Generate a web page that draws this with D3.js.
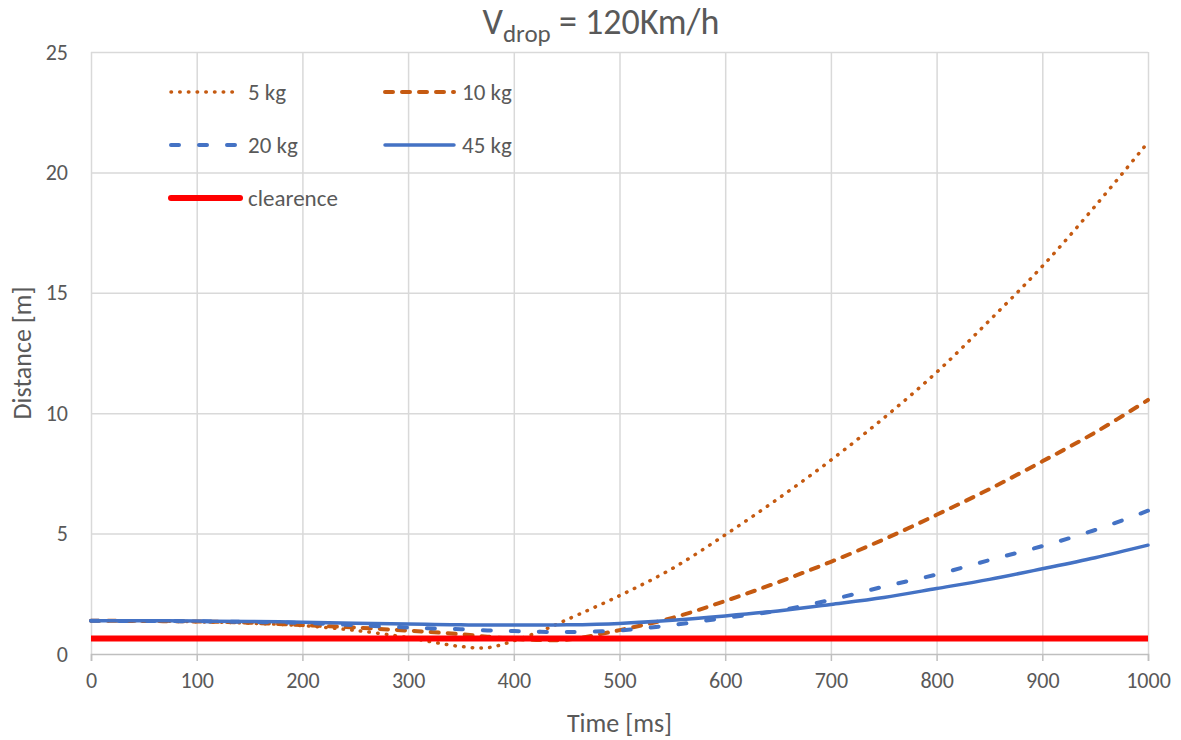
<!DOCTYPE html>
<html lang="en">
<head>
  <meta charset="UTF-8">
  <title>Vdrop 120</title>
  <script src="https://d3js.org/d3.v7.min.js"></script>
  <style>
    body { margin: 0; background: #fff; }
    svg { width: 1181px; height: 740px; display: block; font-family: Carlito, Calibri, Lato, sans-serif; }
  </style>
</head>
<body>
  <svg></svg>
  <script>
    // time points [ms]
    const times = [0, 50, 100, 150, 200, 250, 300, 325, 350, 375, 400, 425, 450,
      500, 550, 600, 650, 700, 750, 800, 850, 900, 950, 1000];

    // distance [m]
    const kg5 = [1.38, 1.37, 1.34, 1.28, 1.18, 0.98, 0.68, 0.48, 0.31, 0.26, 0.55, 0.94, 1.42,
      2.42, 3.55, 4.95, 6.45, 8.05, 9.8, 11.7, 13.85, 16.1, 18.6, 21.25];
    const kg10 = [1.38, 1.37, 1.35, 1.3, 1.2, 1.1, 0.97, 0.9, 0.82, 0.72, 0.63, 0.58, 0.59,
      0.99, 1.5, 2.2, 2.98, 3.83, 4.76, 5.78, 6.85, 8.0, 9.2, 10.55];
    const kg20 = [1.38, 1.37, 1.36, 1.33, 1.29, 1.2, 1.1, 1.06, 1.03, 0.98, 0.95, 0.92, 0.91,
      0.98, 1.2, 1.5, 1.8, 2.25, 2.8, 3.3, 3.9, 4.48, 5.15, 5.95];
    const kg45 = [1.38, 1.38, 1.37, 1.35, 1.32, 1.28, 1.25, 1.23, 1.21, 1.2, 1.2, 1.2, 1.21,
      1.27, 1.4, 1.58, 1.79, 2.06, 2.35, 2.72, 3.1, 3.54, 4.0, 4.52];
    const clearence = times.map(() => 0.64);

    const xTicks = [0, 100, 200, 300, 400, 500, 600, 700, 800, 900, 1000];
    const yTicks = [0, 5, 10, 15, 20, 25];

    const series = [
      {name: `5 kg`, values: kg5, color: `#C55A11`, width: 3.5, dash: `0.5 8.2`, cap: `round`},
      {name: `10 kg`, values: kg10, color: `#C55A11`, width: 4, dash: `8 9`, cap: `round`},
      {name: `20 kg`, values: kg20, color: `#4472C4`, width: 4, dash: `8 20`, cap: `round`},
      {name: `45 kg`, values: kg45, color: `#4472C4`, width: 3.5, dash: null, cap: `round`},
      {name: `clearence`, values: clearence, color: `#FF0000`, width: 6, dash: null, cap: `butt`},
    ];

    const margin = {top: 52, bottom: 86, left: 91, right: 33};
    const width = 1181;
    const height = 740;
    const textColor = `#595959`;
    const font = `Carlito, Calibri, Lato, sans-serif`;

    const xScale = d3.scaleLinear()
      .domain([0, 1000])
      .range([margin.left, width - margin.right]);

    const yScale = d3.scaleLinear()
      .domain([0, 25])
      .range([height - margin.bottom, margin.top]);

    const svg = d3.select(`svg`);

    // gridlines
    svg.append(`g`)
      .attr(`transform`, `translate(${margin.left}, 0)`)
      .call(d3.axisLeft(yScale).tickValues(yTicks.slice(1))
        .tickSize(-(width - margin.left - margin.right)).tickFormat(``))
      .call(g => g.select(`.domain`).remove())
      .call(g => g.selectAll(`line`).attr(`stroke`, `#D9D9D9`).attr(`stroke-width`, 1.5));

    svg.append(`g`)
      .attr(`transform`, `translate(0, ${height - margin.bottom})`)
      .call(d3.axisBottom(xScale).tickValues(xTicks)
        .tickSize(-(height - margin.top - margin.bottom)).tickFormat(``))
      .call(g => g.select(`.domain`).remove())
      .call(g => g.selectAll(`line`).attr(`stroke`, `#D9D9D9`).attr(`stroke-width`, 1.5));

    // x axis
    svg.append(`g`)
      .attr(`transform`, `translate(0, ${height - margin.bottom})`)
      .call(d3.axisBottom(xScale).tickValues(xTicks).tickFormat(d3.format(`d`))
        .tickSize(7).tickPadding(11))
      .call(g => g.select(`.domain`).attr(`stroke`, `#BFBFBF`).attr(`stroke-width`, 1.5))
      .call(g => g.selectAll(`line`).attr(`stroke`, `#BFBFBF`).attr(`stroke-width`, 1.5))
      .call(g => g.selectAll(`text`).attr(`fill`, textColor)
        .attr(`font-size`, 22).attr(`font-family`, font));

    // y axis labels
    svg.append(`g`)
      .attr(`transform`, `translate(${margin.left}, 0)`)
      .call(d3.axisLeft(yScale).tickValues(yTicks).tickSize(0).tickPadding(23))
      .call(g => g.select(`.domain`).remove())
      .call(g => g.selectAll(`text`).attr(`fill`, textColor)
        .attr(`font-size`, 22).attr(`font-family`, font));

    // lines
    const line = d3.line()
      .x((d, i) => xScale(times[i]))
      .y(d => yScale(d))
      .curve(d3.curveCatmullRom.alpha(0.5));

    series.forEach(s => {
      svg.append(`path`)
        .attr(`d`, line(s.values))
        .attr(`fill`, `none`)
        .attr(`stroke`, s.color)
        .attr(`stroke-width`, s.width)
        .attr(`stroke-linecap`, s.cap)
        .attr(`stroke-dasharray`, s.dash);
    });

    // legend
    const legendPos = [[171, 92], [385, 92], [171, 145], [385, 145], [171, 198]];
    series.forEach((s, i) => {
      const [lx, ly] = legendPos[i];
      svg.append(`line`)
        .attr(`x1`, lx).attr(`x2`, lx + 69)
        .attr(`y1`, ly).attr(`y2`, ly)
        .attr(`stroke`, s.color)
        .attr(`stroke-width`, s.width)
        .attr(`stroke-linecap`, `round`)
        .attr(`stroke-dasharray`, s.dash);
      svg.append(`text`)
        .attr(`x`, lx + 77).attr(`y`, ly)
        .attr(`dy`, `0.35em`)
        .attr(`fill`, textColor)
        .attr(`font-size`, 23)
        .text(s.name);
    });

    // axis titles
    svg.append(`text`)
      .attr(`x`, (margin.left + width - margin.right) / 2)
      .attr(`y`, 732)
      .attr(`text-anchor`, `middle`)
      .attr(`fill`, textColor)
      .attr(`font-size`, 26)
      .text(`Time [ms]`);

    svg.append(`text`)
      .attr(`transform`, `translate(31, ${(margin.top + height - margin.bottom) / 2}) rotate(-90)`)
      .attr(`text-anchor`, `middle`)
      .attr(`fill`, textColor)
      .attr(`font-size`, 26)
      .text(`Distance [m]`);

    // title
    const title = svg.append(`text`)
      .attr(`x`, 601)
      .attr(`y`, 34)
      .attr(`text-anchor`, `middle`)
      .attr(`fill`, textColor)
      .attr(`font-size`, 36);
    title.append(`tspan`).text(`V`);
    title.append(`tspan`).attr(`dy`, 8).attr(`font-size`, 25).text(`drop`);
    title.append(`tspan`).attr(`dy`, -8).text(` = 120Km/h`);
  </script>
</body>
</html>
